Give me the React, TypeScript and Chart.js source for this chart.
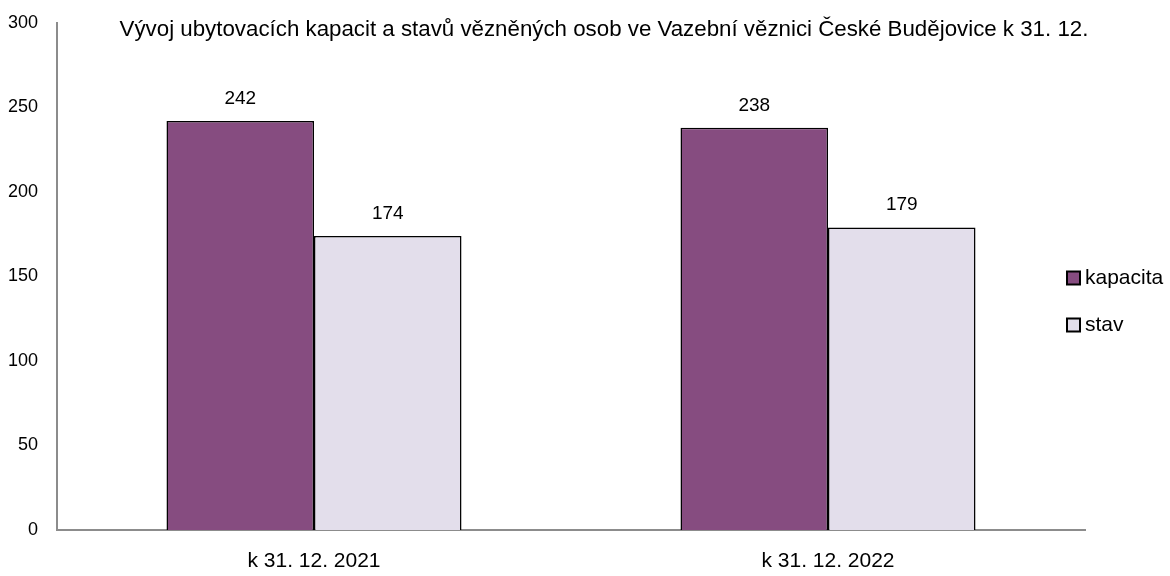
import React, { useEffect, useRef } from "react";
import { Chart, registerables } from "chart.js";

Chart.register(...registerables);

const categories = ["k 31. 12. 2021", "k 31. 12. 2022"];
const kapacita = [242, 238];
const stav = [174, 179];
const seriesNames = ["kapacita", "stav"];
const yTicks = [0, 50, 100, 150, 200, 250, 300];
const titleText = "Vývoj ubytovacích kapacit a stavů vězněných osob ve Vazební věznici České Budějovice k 31. 12.";

const FONT = "'Liberation Sans', Arial, sans-serif";
const colors = ["#864C80", "#E3DEEB"];

export default function App() {
  const ref = useRef<HTMLCanvasElement | null>(null);
  useEffect(() => {
    document.body.style.margin = "0";
    const canvas = ref.current!;
    const overlay = {
      id: "overlay",
      afterDraw(chart: any) {
        const ctx = chart.ctx;
        ctx.save();
        ctx.fillStyle = "#000";
        // title
        ctx.font = `22.3px ${FONT}`;
        ctx.textAlign = "center";
        ctx.textBaseline = "middle";
        ctx.fillText(titleText, 604, 29.5);
        // data labels
        ctx.font = `19px ${FONT}`;
        ctx.textBaseline = "bottom";
        chart.data.datasets.forEach((ds: any, di: number) => {
          const meta = chart.getDatasetMeta(di);
          meta.data.forEach((bar: any, i: number) => {
            ctx.fillText(String(ds.data[i]), bar.x, bar.y - 13);
          });
        });
        // legend
        ctx.textAlign = "left";
        ctx.textBaseline = "middle";
        ctx.font = `21px ${FONT}`;
        const ly = [278, 325];
        seriesNames.forEach((n, i) => {
          ctx.fillStyle = colors[i];
          ctx.fillRect(1067, ly[i] - 6.5, 13, 13);
          ctx.strokeStyle = "#000";
          ctx.lineWidth = 2;
          ctx.strokeRect(1067, ly[i] - 6.5, 13, 13);
          ctx.fillStyle = "#000";
          ctx.fillText(n, 1085, ly[i]);
        });
        ctx.restore();
      },
    };
    const chart = new Chart(canvas, {
      type: "bar",
      data: {
        labels: categories,
        datasets: [
          {
            label: seriesNames[0],
            data: kapacita,
            backgroundColor: colors[0],
            borderColor: "#000",
            borderWidth: 1.5,
            barPercentage: 1,
            categoryPercentage: 0.574,
          },
          {
            label: seriesNames[1],
            data: stav,
            backgroundColor: colors[1],
            borderColor: "#000",
            borderWidth: 1.5,
            barPercentage: 1,
            categoryPercentage: 0.574,
          },
        ],
      },
      options: {
        animation: false,
        responsive: false,
        layout: { padding: { top: 23, right: 85, left: 0, bottom: 0 } },
        plugins: { legend: { display: false }, title: { display: false }, tooltip: { enabled: false } },
        scales: {
          x: {
            grid: { display: false, drawTicks: false },
            border: { color: "#8c8c8c", width: 2 },
            ticks: { color: "#000", font: { family: FONT, size: 21 }, padding: 19 },
            afterFit: (s: any) => {
              s.height = 46;
              s.paddingLeft = 0;
              s.paddingRight = 0;
            },
          },
          y: {
            min: 0,
            max: 300,
            afterBuildTicks: (s: any) => { s.ticks = yTicks.map((v) => ({ value: v })); },
            grid: { display: false, drawTicks: false },
            border: { color: "#8c8c8c", width: 2 },
            ticks: { color: "#000", font: { family: FONT, size: 18 }, padding: 19 },
            afterFit: (s: any) => {
              s.width = 57;
              s.paddingTop = 0;
              s.paddingBottom = 0;
            },
          },
        },
      },
      plugins: [overlay],
    });
    return () => chart.destroy();
  }, []);
  return (
    <div style={{ width: 1170, height: 576, background: "#fff" }}>
      <canvas ref={ref} width={1170} height={576} style={{ display: "block" }} />
    </div>
  );
}
